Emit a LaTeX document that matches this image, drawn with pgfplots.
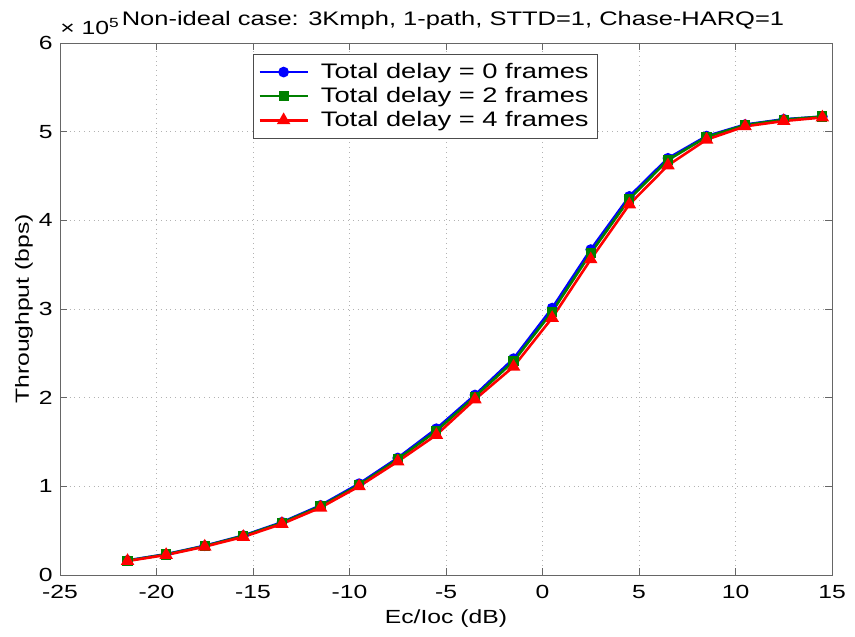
\documentclass[border=0pt]{standalone}
\usepackage{fontspec}
\setmainfont{Liberation Sans}[FakeStretch=1.3]
\usepackage{pgfplots}
\pgfplotsset{compat=1.18}
\definecolor{mblue}{rgb}{0,0,1}
\definecolor{mgreen}{rgb}{0,0.5,0}
\definecolor{mred}{rgb}{1,0,0}

\begin{document}
\fontsize{9.5}{11}\selectfont
\begin{tikzpicture}
\begin{axis}[
  scale only axis,
  width=386pt, height=266pt,
  xmin=-25, xmax=15, ymin=0, ymax=6,
  xtick={-25,-20,...,15}, ytick={0,1,...,6},
  /pgf/number format/assume math mode=true,
  tick align=inside, major tick length=3.5pt,
  tick style={black!60, thin},
  axis line style={black!60, thin},
  grid=major, grid style={black!30, dotted, thin},
  xticklabel style={inner sep=1pt, yshift=-4pt},
  yticklabel style={inner sep=1pt, xshift=-2.5pt},
  xlabel={Ec/Ioc (dB)},
  xlabel style={at={(axis description cs:0.5,0)}, anchor=north, yshift=-17pt, inner sep=0pt},
  ylabel={Throughput (bps)},
  ylabel style={at={(axis description cs:0,0.5)}, anchor=center, yshift=18pt, inner sep=0pt},
  title={Non-ideal case: 3Kmph, 1-path, STTD=1, Chase-HARQ=1},
  title style={at={(0.5,1)}, anchor=base, xshift=3.5pt, yshift=2.5pt, inner sep=0pt, font=\fontsize{9.8}{12}\selectfont},
  legend style={at={(0.4735,0.98)}, anchor=north, draw=black!70, fill=white,
    font=\fontsize{10.5}{12}\selectfont, row sep=-1pt, column sep=4pt, inner sep=2.5pt},
  legend cell align={left},
  legend image code/.code={\draw[mark repeat=2,mark phase=2] plot coordinates {(0cm,0cm) (0.42cm,0cm) (0.84cm,0cm)};},
  clip=false,
]
\addplot[color=mblue, line width=1.3pt, mark=*, mark size=2pt, mark options={fill=mblue}] coordinates {
  (-21.5,0.165) (-19.5,0.235) (-17.5,0.33) (-15.5,0.445) (-13.5,0.595)
  (-11.5,0.785) (-9.5,1.03) (-7.5,1.32) (-5.5,1.65) (-3.5,2.03)
  (-1.5,2.44) (0.5,3.01) (2.5,3.67) (4.5,4.27) (6.5,4.70)
  (8.5,4.95) (10.5,5.08) (12.5,5.14) (14.5,5.17)
};
\addlegendentry{Total delay = 0 frames}
\addplot[color=mgreen, line width=1.3pt, mark=square*, mark size=1.9pt, mark options={fill=mgreen}] coordinates {
  (-21.5,0.162) (-19.5,0.232) (-17.5,0.326) (-15.5,0.44) (-13.5,0.588)
  (-11.5,0.775) (-9.5,1.015) (-7.5,1.305) (-5.5,1.625) (-3.5,2.01)
  (-1.5,2.41) (0.5,2.97) (2.5,3.63) (4.5,4.24) (6.5,4.68)
  (8.5,4.94) (10.5,5.075) (12.5,5.135) (14.5,5.17)
};
\addlegendentry{Total delay = 2 frames}
\addplot[color=mred, line width=1.3pt, mark=triangle*, mark size=2.6pt, mark options={fill=mred}] coordinates {
  (-21.5,0.158) (-19.5,0.226) (-17.5,0.32) (-15.5,0.43) (-13.5,0.576)
  (-11.5,0.76) (-9.5,1.0) (-7.5,1.28) (-5.5,1.58) (-3.5,1.98)
  (-1.5,2.35) (0.5,2.90) (2.5,3.56) (4.5,4.18) (6.5,4.62)
  (8.5,4.91) (10.5,5.06) (12.5,5.12) (14.5,5.16)
};
\addlegendentry{Total delay = 4 frames}
\node[anchor=base west, inner sep=0pt, yshift=4pt] at (rel axis cs:0,1) {× 10\textsuperscript{5}};
\end{axis}
\path ([xshift=-30pt,yshift=-30.5pt]current axis.south west) rectangle ([xshift=11.5pt,yshift=21.5pt]current axis.north east);
\end{tikzpicture}
\end{document}
